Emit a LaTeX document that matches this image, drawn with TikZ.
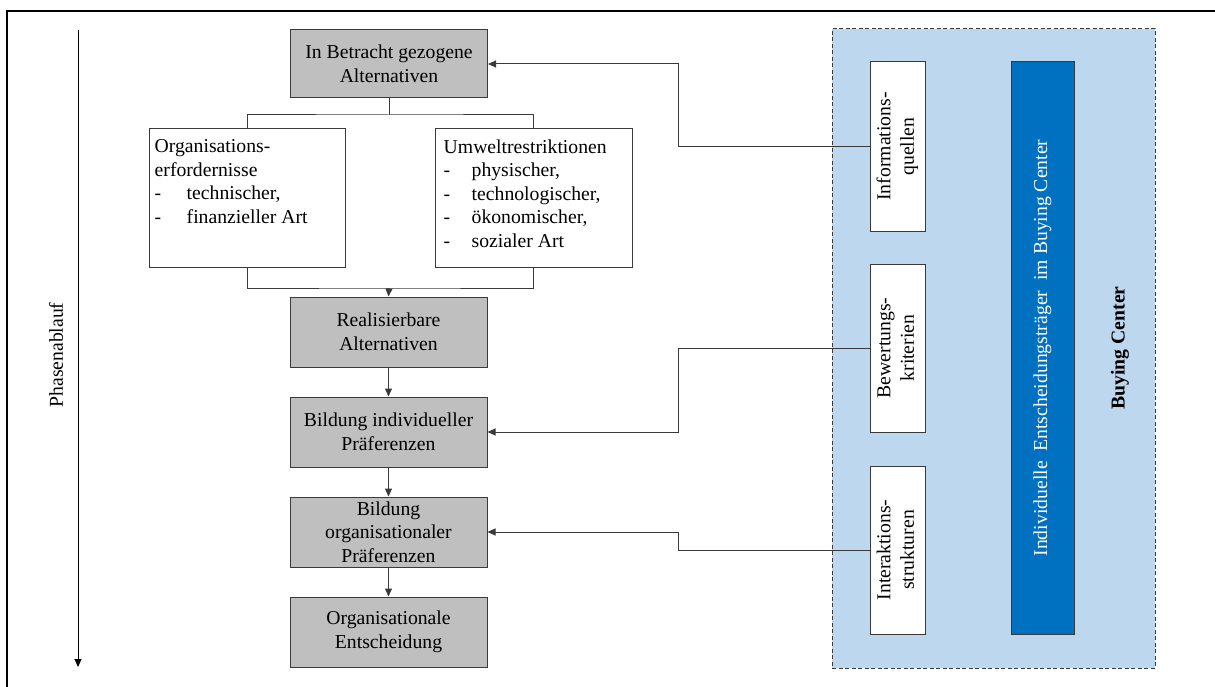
\documentclass[tikz,border=0pt]{standalone}
\usepackage{fontspec}
\setmainfont{Liberation Serif}
\usetikzlibrary{arrows.meta}
\definecolor{lineg}{HTML}{3A3A3A}
\definecolor{boxgray}{HTML}{BFBFBF}
\definecolor{lightblue}{HTML}{BDD7EE}
\definecolor{darkblue}{HTML}{0070C0}
\begin{document}
\begin{tikzpicture}[x=1pt,y=-1pt,
  txt/.style={font=\fontsize{19.7}{23.5}\selectfont},
  gbox/.style={draw=lineg, line width=1pt, fill=boxgray, txt, align=center, inner sep=0pt, minimum width=197pt, minimum height=#1},
  wbox/.style={draw=lineg, line width=1pt, fill=white, inner sep=0pt},
  conn/.style={draw=lineg, line width=1pt},
  arr/.style={conn, -{Triangle[length=8pt,width=7pt]}}
]
\useasboundingbox (0,0) rectangle (1215,687);
% outer frame
\draw[line width=2pt, black] (7,687) -- (7,11) -- (1215,11);

% phase arrow
\coordinate (ph1) at (78,30);
\coordinate (ph2) at (78,667);
\draw[arr, black] (ph1) -- (ph2);
\node[txt, rotate=90] (phase) at (56,355) {Phasenablauf};

% left flow
\node[gbox=68pt] (top) at (389,64) {In Betracht gezogene\\Alternativen};
\node[wbox, minimum width=196pt, minimum height=138pt] (org) at (247,198) {};
\node[wbox, minimum width=197pt, minimum height=138pt] (umw) at (533.5,198) {};
\node[txt, anchor=north west, inner sep=0pt, align=left] (orgtxt) at ([shift={(6,11)}]org.north west)
  {Organisations-\\erfordernisse\\\makebox[32pt][l]{-}technischer,\\\makebox[32pt][l]{-}finanzieller Art};
\node[txt, anchor=north west, inner sep=0pt, align=left] (umwtxt) at ([shift={(9,11)}]umw.north west)
  {Umweltrestriktionen\\\makebox[28pt][l]{-}physischer,\\\makebox[28pt][l]{-}technologischer,\\\makebox[28pt][l]{-}ökonomischer,\\\makebox[28pt][l]{-}sozialer Art};
\node[gbox=70pt] (real) at (388.5,332) {Realisierbare\\Alternativen};
\node[gbox=70pt] (indiv) at (388.5,432) {Bildung individueller\\Präferenzen};
\node[gbox=70pt] (orgpref) at (388.5,532) {Bildung\\organisationaler\\Präferenzen};
\node[gbox=70pt] (ent) at (388.5,632) {Organisationale\\Entscheidung};

\coordinate (j1) at (389,115);
\coordinate (j2) at (389,288);
\draw[conn] (top.south) -- (j1);
\draw[conn] (org.north) |- (j1) -| (umw.north);
\draw[conn] (org.south) |- (j2) -| (umw.south);
\draw[arr] (j2) -- (real.north);
\draw[arr] (real) -- (indiv);
\draw[arr] (indiv) -- (orgpref);
\draw[arr] (orgpref) -- (ent);

% buying center
\node[draw=lineg, dashed, dash pattern=on 4pt off 2.5pt, line width=1pt, fill=lightblue, minimum width=323pt, minimum height=639pt, inner sep=0pt] (bc) at (993.5,348.5) {};
\node[wbox, minimum width=55pt, minimum height=169pt, txt] (info) at (897.5,146.5)
  {\rotatebox{90}{\begin{tabular}{@{}c@{}}Informations-\\quellen\end{tabular}}};
\node[wbox, minimum width=55pt, minimum height=168pt, txt] (bew) at (897.5,348)
  {\rotatebox{90}{\begin{tabular}{@{}c@{}}Bewertungs-\\kriterien\end{tabular}}};
\node[wbox, minimum width=55pt, minimum height=168pt, txt] (inter) at (897.5,550)
  {\rotatebox{90}{\begin{tabular}{@{}c@{}}Interaktions-\\strukturen\end{tabular}}};
\node[draw=lineg, line width=1pt, fill=darkblue, minimum width=63pt, minimum height=572pt, inner sep=0pt, txt, text=white] (ind) at (1042.5,348)
  {\rotatebox{90}{Individuelle\ \ Entscheidungsträger\ \ im Buying Center}};
\node[txt, font=\fontsize{19.7}{23.5}\selectfont\bfseries, rotate=90] (bclabel) at (1120,348) {Buying Center};

% feedback connectors
\coordinate (k) at (678,0);
\draw[arr] (info.west) -- (info.west -| k) |- (top.east);
\draw[arr] (bew.west) -- (bew.west -| k) |- (indiv.east);
\draw[arr] (inter.west) -- (inter.west -| k) |- (orgpref.east);
\end{tikzpicture}
\end{document}
